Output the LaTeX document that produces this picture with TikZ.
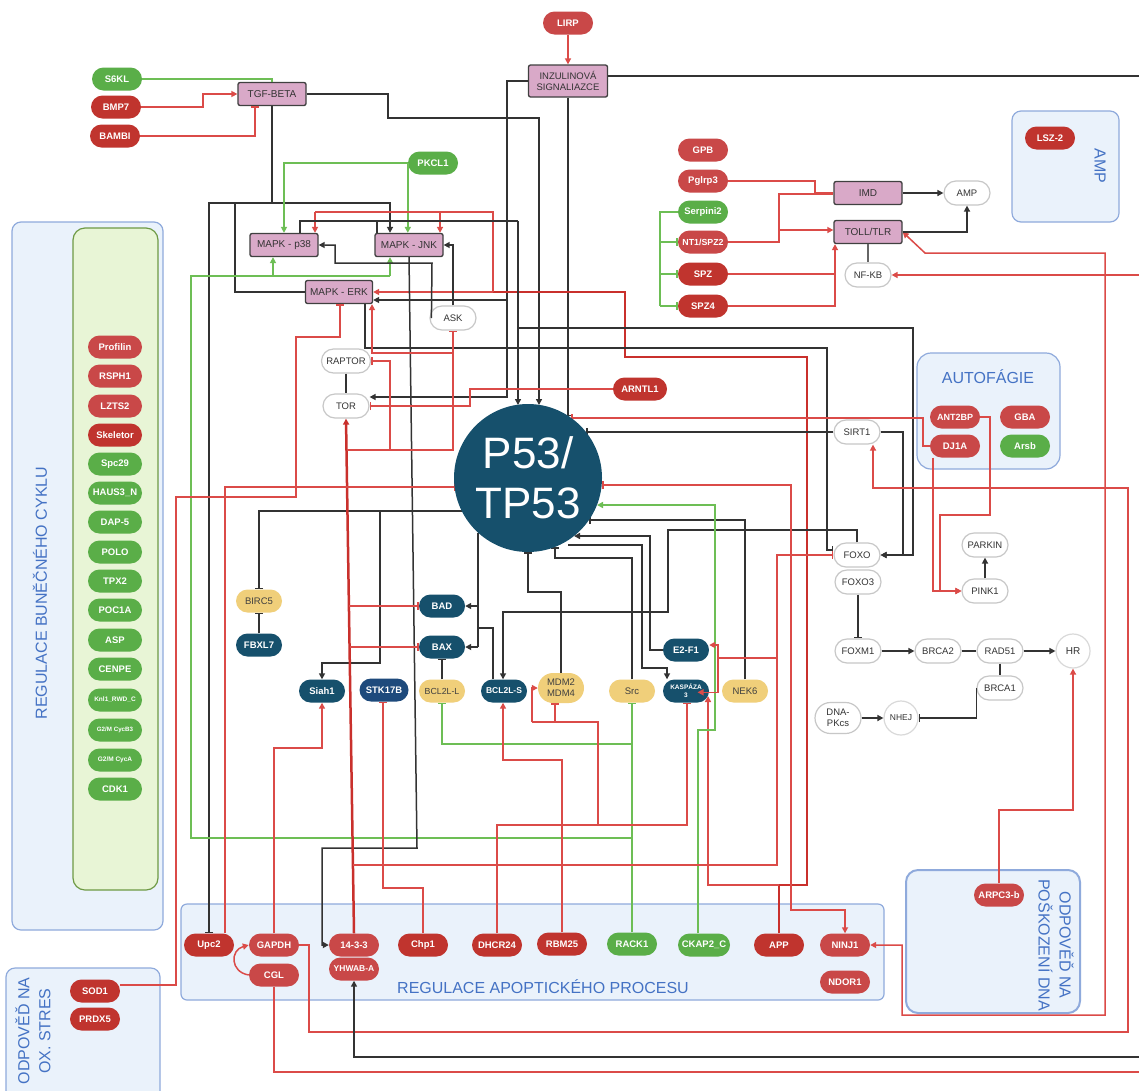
\documentclass[tikz,border=0pt]{standalone}
\usepackage{fontspec}
\setmainfont{Liberation Sans}
\usetikzlibrary{arrows.meta,shapes.misc,shapes.geometric}
\definecolor{redA}{HTML}{C94848}
\definecolor{redB}{HTML}{C0342E}
\definecolor{greenP}{HTML}{5AAE48}
\definecolor{blueD}{HTML}{16506C}
\definecolor{navyB}{HTML}{1E4A7C}
\definecolor{yellowP}{HTML}{F0CF7A}
\definecolor{pinkF}{HTML}{D9A9C8}
\definecolor{lineR}{HTML}{DB4B48}
\definecolor{lineRT}{HTML}{C9302C}
\definecolor{lineG}{HTML}{6DBE55}
\definecolor{lineK}{HTML}{333333}
\definecolor{boxF}{HTML}{EAF2FB}
\definecolor{boxD}{HTML}{8FAADC}
\definecolor{gboxF}{HTML}{E8F5D6}
\definecolor{gboxD}{HTML}{6E9A45}
\definecolor{titleB}{HTML}{4472C4}
\begin{document}
\begin{tikzpicture}[x=1pt,y=-1pt,
  every node/.style={inner sep=0pt},
  pillb/.style={shape=rounded rectangle, minimum width=50pt, minimum height=23pt, text=white, font=\fontsize{9.5}{11}\selectfont\bfseries},
  rp/.style={pillb, fill=redA},
  rd/.style={pillb, fill=redB},
  gp/.style={pillb, fill=greenP},
  bp/.style={pillb, fill=blueD, minimum width=46pt},
  yp/.style={shape=rounded rectangle, minimum width=46pt, minimum height=23pt, fill=yellowP, text=black!75, font=\fontsize{9.5}{11}\selectfont},
  wp/.style={shape=rounded rectangle, minimum width=46pt, minimum height=24pt, fill=white, draw=black!22, line width=1.2pt, text=black!80, font=\fontsize{9.5}{11}\selectfont},
  pk/.style={rectangle, rounded corners=2pt, minimum width=68pt, minimum height=23pt, fill=pinkF, draw=black!75, line width=1.3pt, text=black!80, font=\fontsize{10}{12}\selectfont},
  boxst/.style={fill=boxF, draw=boxD, line width=1.2pt, rounded corners=9pt},
  ttl/.style={text=titleB, font=\fontsize{16}{21}\selectfont, align=center},
  bl/.style={draw=lineK, line width=1.5pt},
  rl/.style={draw=lineR, line width=1.5pt},
  rlT/.style={draw=lineRT, line width=2.5pt},
  gl/.style={draw=lineG, line width=1.5pt},
  act/.style={-{Triangle[length=6pt,width=6pt]}},
  inh/.style={-{Bar[width=8pt]}},
  bact/.style={{Triangle[length=6pt,width=6pt]}-{Triangle[length=6pt,width=6pt]}},
  binh/.style={{Bar[width=8pt]}-{Triangle[length=6pt,width=6pt]}}
]
\fill[white] (0,0) rectangle (1139,1090);
\useasboundingbox (0,0) rectangle (1139,1090);

% ---------- boxes ----------
\draw[boxst] (12,222) rectangle (163,930);
\draw[fill=gboxF, draw=gboxD, line width=1.2pt, rounded corners=12pt] (73,228) rectangle (158,890);
\draw[boxst, rounded corners=6pt] (181,904) rectangle (884,1000);
\draw[boxst] (6,968) rectangle (160,1110);
\draw[boxst, line width=2pt, rounded corners=12pt] (906,870) rectangle (1080,1013);
\draw[boxst] (1012,111) rectangle (1119,222);
\draw[boxst, rounded corners=14pt] (917,353) rectangle (1060,469);

\node[ttl, rotate=90] (tCyc) at (40,593) {REGULACE BUNĚČNÉHO CYKLU};
\node[ttl] (tApo) at (543,987) {REGULACE APOPTICKÉHO PROCESU};
\node[ttl] (tAut) at (988,377) {AUTOFÁGIE};
\node[ttl, rotate=-90] (tAmp) at (1100,166) {AMP};
\node[ttl, rotate=-90] (tDna) at (1056,945) {ODPOVĚĎ NA\\POŠKOZENÍ DNA};
\node[ttl, rotate=90] (tOx) at (33,1031) {ODPOVĚĎ NA\\OX. STRES};

% ---------- nodes ----------
\node[gp] (S6KL) at (117,79) {S6KL};
\node[rd] (BMP7) at (116,107) {BMP7};
\node[rd] (BAMBI) at (115,136) {BAMBI};
\node[rp] (LIRP) at (568,23) {LIRP};
\node[gp] (PKCL1) at (433,163) {PKCL1};
\node[pk] (TGF) at (272,94) {TGF-BETA};
\node[pk, minimum width=79pt, minimum height=32pt, align=center, font=\fontsize{9.5}{11.5}\selectfont] (INZ) at (568,81) {INZULINOVÁ\\SIGNALIAZCE};
\node[pk] (p38) at (284,245) {MAPK - p38};
\node[pk] (JNK) at (409,245) {MAPK - JNK};
\node[pk, minimum width=67pt] (ERK) at (339,292) {MAPK - ERK};
\node[wp] (ASK) at (453,318) {ASK};
\node[wp, minimum width=49pt] (RAPTOR) at (346,361) {RAPTOR};
\node[wp] (TOR) at (346,406) {TOR};
\node[rd, minimum width=54pt] (ARNTL1) at (640,389) {ARNTL1};
\node[rp] (GPB) at (703,150) {GPB};
\node[rp] (Pglrp3) at (703,181) {Pglrp3};
\node[gp] (Serpini2) at (703,212) {Serpini2};
\node[rp, font=\fontsize{8.8}{10}\selectfont\bfseries] (NT1) at (703,242) {NT1/SPZ2};
\node[rd] (SPZ) at (703,274) {SPZ};
\node[rd] (SPZ4) at (703,306) {SPZ4};
\node[pk] (IMD) at (868,193) {IMD};
\node[pk] (TOLL) at (868,232) {TOLL/TLR};
\node[wp] (AMPn) at (967,193) {AMP};
\node[wp] (NFKB) at (868,275) {NF-KB};
\node[rd] (LSZ) at (1050,138) {LSZ-2};
\node[wp] (SIRT1) at (857,432) {SIRT1};
\node[wp] (FOXO) at (857,555) {FOXO};
\node[wp] (FOXO3) at (858,582) {FOXO3};
\node[wp] (FOXM1) at (858,651) {FOXM1};
\node[wp] (BRCA2) at (938,651) {BRCA2};
\node[wp] (RAD51) at (1000,651) {RAD51};
\node[wp] (BRCA1) at (1000,688) {BRCA1};
\node[circle, minimum size=34pt, fill=white, draw=black!15, line width=1.2pt, text=black!80, font=\fontsize{10}{12}\selectfont] (HR) at (1073,651) {HR};
\node[wp] (PARKIN) at (985,545) {PARKIN};
\node[wp] (PINK1) at (985,591) {PINK1};
\node[rp, font=\fontsize{9}{10}\selectfont\bfseries] (ANT2BP) at (955,417) {ANT2BP};
\node[rp] (GBA) at (1025,417) {GBA};
\node[rp] (DJ1A) at (955,446) {DJ1A};
\node[gp] (Arsb) at (1025,446) {Arsb};
\node[yp] (BIRC5) at (259,601) {BIRC5};
\node[bp] (FBXL7) at (259,645) {FBXL7};
\node[bp] (BAD) at (442,606) {BAD};
\node[bp] (BAX) at (442,647) {BAX};
\node[bp] (Siah1) at (322,691) {Siah1};
\node[bp, fill=navyB, minimum width=49pt] (STK17B) at (384,690) {STK17B};
\node[yp, font=\fontsize{8.8}{10}\selectfont] (BCL2LL) at (442,691) {BCL2L-L};
\node[bp, font=\fontsize{8.5}{10}\selectfont\bfseries] (BCL2LS) at (504,691) {BCL2L-S};
\node[yp, minimum height=30pt, align=center, font=\fontsize{9.5}{11}\selectfont] (MDM) at (561,688) {MDM2\\MDM4};
\node[yp] (Src) at (632,691) {Src};
\node[bp, align=center, font=\fontsize{6.5}{8}\selectfont\bfseries] (KASP) at (686,691) {KASPÁZA\\3};
\node[yp] (NEK6) at (745,691) {NEK6};
\node[bp] (E2F1) at (686,650) {E2-F1};
\node[wp, minimum height=31pt, align=center] (DNAPK) at (838,718) {DNA-\\PKcs};
\node[circle, minimum size=34pt, fill=white, draw=black!15, line width=1.2pt, text=black!80, font=\fontsize{8.5}{10}\selectfont] (NHEJ) at (901,718) {NHEJ};
\node[rd] (Upc2) at (209,945) {Upc2};
\node[rp] (GAPDH) at (274,945) {GAPDH};
\node[rp] (CGL) at (274,975) {CGL};
\node[rp] (YHWAB) at (354,969) {\fontsize{8.5}{10}\selectfont YHWAB-A};
\node[rp] (P1433) at (354,945) {14-3-3};
\node[rd] (Chp1) at (423,945) {Chp1};
\node[rd] (DHCR24) at (497,945) {DHCR24};
\node[rd] (RBM25) at (562,944) {RBM25};
\node[gp] (RACK1) at (632,944) {RACK1};
\node[gp, minimum width=52pt] (CKAP2) at (704,945) {CKAP2\_C};
\node[rd] (APP) at (779,945) {APP};
\node[rp] (NINJ1) at (845,945) {NINJ1};
\node[rp] (NDOR1) at (845,982) {NDOR1};
\node[rp] (ARPC3) at (999,895) {ARPC3-b};
\node[rd] (SOD1) at (95,991) {SOD1};
\node[rd] (PRDX5) at (95,1019) {PRDX5};
% cell-cycle column
\node[rp, minimum width=54pt] (cProf) at (115,347) {Profilin};
\node[rp, minimum width=54pt] (cRsph) at (115,376) {RSPH1};
\node[rp, minimum width=54pt] (cLzts) at (115,406) {LZTS2};
\node[rd, minimum width=54pt] (cSkel) at (115,435) {Skeletor};
\node[gp, minimum width=54pt] (cSpc) at (115,464) {Spc29};
\node[gp, minimum width=54pt] (cHaus) at (115,493) {HAUS3\_N};
\node[gp, minimum width=54pt] (cDap) at (115,522) {DAP-5};
\node[gp, minimum width=54pt] (cPolo) at (115,552) {POLO};
\node[gp, minimum width=54pt] (cTpx) at (115,581) {TPX2};
\node[gp, minimum width=54pt] (cPoc) at (115,610) {POC1A};
\node[gp, minimum width=54pt] (cAsp) at (115,640) {ASP};
\node[gp, minimum width=54pt] (cCenp) at (115,669) {CENPE};
\node[gp, minimum width=54pt, font=\fontsize{6.5}{8}\selectfont\bfseries] (cKnl) at (115,700) {Knl1\_RWD\_C};
\node[gp, minimum width=54pt, font=\fontsize{6.2}{8}\selectfont\bfseries] (cCycB) at (115,730) {G2/M CycB3};
\node[gp, minimum width=54pt, font=\fontsize{6.5}{8}\selectfont\bfseries] (cCycA) at (115,760) {G2/M CycA};
\node[gp, minimum width=54pt] (cCdk) at (115,789) {CDK1};

% ---------- connectors ----------
% TGF area
\draw[gl] (S6KL.east) -| (TGF.north);
\draw[rl,act] (BMP7.east) -- (203,107) |- (TGF.west);
\draw[rl,inh] (BAMBI.east) -| ([xshift=-17pt]TGF.south);
\draw[bl,act] (TGF.east) -- (388,94) -- (388,118) -- (539,118) -- (539,405);
\draw[bl,inh] (TGF.south) |- (209,203) -- (Upc2.north);
\draw[bl,act] (272,203) -| ([xshift=-19pt]JNK.north);
\draw[bl] (235,203) |- (ERK.west);
% insulin
\draw[rl,act] (LIRP.south) -- (INZ.north);
\draw[bl,inh] (INZ.south) -- (568,416);
\draw[bl] ([yshift=5pt]INZ.east) -- (1139,76);
\draw[bl,act] (INZ.west) -| (507,300) -- ([yshift=-8pt]ERK.east);
\draw[bl,act] (507,300) -- (507,397) -- ([yshift=9pt]TOR.east);
% PKCL1
\draw[gl,act] (PKCL1.west) -| (p38.north);
\draw[gl,act] (PKCL1.west) -- (PKCL1.west |- JNK.north);
% RACK1
\draw[gl] (632,838) -- (191,838) -- (191,276) -- (390,276);
\draw[gl,act] (273,276) -- ([xshift=-11pt]p38.south);
\draw[gl,act] (390,276) -- ([xshift=-19pt]JNK.south);
\draw[gl,inh] (632,744) -| (BCL2LL.south);
\draw[gl,inh] (RACK1.north) -- (Src.south);
% APP thick
\draw[rlT] (APP.north) -- (779,885) -- (807,885) -- (807,357) -- (625,357) -- (625,292) -- (493,292);
\draw[rl,act] (493,292) -- (ERK.east);
\draw[rl] (493,292) -- (493,212) -- (315,212);
\draw[rl,act] (315,212) -- ([xshift=31pt]p38.north);
\draw[rl,act] (440,212) -- ([xshift=31pt]JNK.north);
\draw[rl,act] (779,885) -- (708,885) -- ([xshift=22pt,yshift=-5pt]KASP.center);
% ASK
\draw[bl,act] (ASK.north) |- (JNK.east);
\draw[bl,act] ([xshift=2pt]ASK.west) -- (432,263) -- (335,263) -- (335,245) -- (p38.east);
% JNK -> 14-3-3
\draw[bl,act] (JNK.south) -- (417,848) -- (322,848) |- (P1433.west);
% SOD1 -| ERK
\draw[rl,inh] ([yshift=6pt]SOD1.east) -- (176,985) -- (176,497) -- (296,497) -- (296,337) -- (340,337) -- ([xshift=1pt]ERK.south);
% ERK -| FOXO
\draw[bl,inh] ([xshift=26pt]ERK.south) -- (365,348) -- (827,348) |- ([yshift=5pt]FOXO.west);
% MAPK -> P53, FOXO
\draw[bl] ([xshift=16pt]p38.north) |- (518,221);
\draw[bl] ([xshift=-32pt]JNK.north) -- (377,221);
\draw[bl,act] (518,221) -- (518,405);
\draw[bl,act] (518,328) -- (913,328) |- (FOXO.east);
\draw[bl,inh] (SIRT1.west) -- (586,432);
\draw[bl,act] (SIRT1.east) -- (903,432) |- (FOXO.east);
% FOXO -> BCL2L-S
\draw[bl,act] (FOXO.north) |- (668,530) -- (668,612) -| ([xshift=-1pt]BCL2LS.north);
% P53 targets
\draw[bl] (478,533) -- (478,647);
\draw[bl,act] (478,606) -- (BAD.east);
\draw[bl,act] (478,647) -- (BAX.east);
\draw[bl] (478,628) -| ([xshift=-11pt]BCL2LS.north);
\draw[bl,inh] (462,511) -| (BIRC5.north);
\draw[bl,act] (380,511) |- (322,663) -- (Siah1.north);
\draw[bl,inh] (FBXL7.north) -- (BIRC5.south);
\draw[bl,inh] (BCL2LL.north) -- (BAX.south);
\draw[bl,inh] (MDM.north) |- (528,592) -- (528,552);
\draw[bl,inh] (Src.north) |- (555,558) -- (555,547);
\draw[bl,act] (E2F1.west) -- (650,650) -- (650,536) -- (574,536);
\draw[bl,act] (568,545) -- (642,545) -- (642,668) -| ([xshift=-19pt]KASP.north);
\draw[bl,inh] (NEK6.north) |- (589,520);
\draw[gl,act] ([xshift=-6pt]CKAP2.north) -- (698,730) -- (715,730) -- (715,505) -- (597,505);
% NINJ1
\draw[rl,binh] (602,485) -- (791,485) -- (791,910) -| (NINJ1.north);
% 14-3-3 network
\draw[rlT,act] (P1433.north) -- (TOR.south);
\draw[rl,inh] (347,450) -| (ASK.south);
\draw[rl,inh] (390,450) |- (RAPTOR.east);
\draw[rl,act] (453,353) -| ([xshift=33pt]ERK.south);
\draw[rl,inh] (349,606) -- (BAD.west);
\draw[rl,inh] (350,647) -- (BAX.west);
\draw[rl,inh] (353,865) -- (777,865) |- (FOXO.west);
\draw[rl,act] (777,658) -- (718,658) |- ([yshift=5pt]E2F1.east);
\draw[rl,act] (718,658) |- ([yshift=-13pt]KASP.north east);
% DHCR24
\draw[rl,inh] (DHCR24.north) |- (687,825) -- ([xshift=1pt]KASP.south);
\draw[rl] (598,825) -- (598,722) -- (532,722);
\draw[rl,act] (532,722) |- (MDM.west);
\draw[rl,inh] (555,722) -- ([xshift=-6pt]MDM.south);
% RBM25, Chp1
\draw[rl,act] (RBM25.north) |- (503,760) -- ([xshift=-1pt]BCL2LS.south);
\draw[rl,inh] (Chp1.north) |- (383,888) -- ([xshift=-1pt]STK17B.south);
% GAPDH, CGL, YHWAB
\draw[rl,act] (GAPDH.north) |- (322,748) -- (Siah1.south);
\draw[rl,act] (CGL.west) .. controls (230,972) and (230,950) .. (GAPDH.west);
\draw[rl,act] (GAPDH.east) -- (309,945) -- (309,1032) -- (1128,1032) -- (1128,488) -| ([xshift=16pt]SIRT1.south);
\draw[rl] (CGL.south) |- (1139,1072);
\draw[bl,act] (1139,1057) -| (YHWAB.south);
% TOLL / immune
\draw[rl,bact] (TOLL.east) -- (925,253) -- (1105,253) -- (1105,1015) -- (902,1015) |- (NINJ1.east);
\draw[rl,act] (1139,275) -- (NFKB.east);
\draw[draw=black!60, line width=1.5pt] (TOLL.south) -- (NFKB.north);
\draw[bl,act] (TOLL.east) -| (AMPn.south);
\draw[bl,act] (IMD.east) -- (AMPn.west);
\draw[rl] (Pglrp3.east) -- (815,181) |- (IMD.west);
\draw[rl] (NT1.east) -- (779,242) |- ([yshift=-1pt]IMD.west);
\draw[rl,act] (779,230) -- ([yshift=2pt]TOLL.west);
\draw[rl,act] (SPZ.east) -| ([xshift=-33pt]TOLL.south);
\draw[rl] (SPZ4.east) -| (835,275);
\draw[gl] (Serpini2.west) -- (660,212) -- (660,306);
\draw[gl,inh] (660,242) -- (NT1.west);
\draw[gl,inh] (660,274) -- (SPZ.west);
\draw[gl,inh] (660,306) -- (SPZ4.west);
% autophagy
\draw[rl,act] (ANT2BP.east) -- (990,417) -- (990,515) -- (940,515) |- (PINK1.west);
\draw[rl,act] ([xshift=-22pt]DJ1A.south) |- (PINK1.west);
\draw[rl,inh] (DJ1A.west) -- (923,446) -- (923,418) -- (571,418);
\draw[bl,act] (PINK1.north) -- (PARKIN.south);
% DNA repair
\draw[bl,inh] (FOXO3.south) -- (FOXM1.north);
\draw[bl,act] (FOXM1.east) -- (BRCA2.west);
\draw[bl] (BRCA2.east) -- (RAD51.west);
\draw[bl,act] (RAD51.east) -- (HR.west);
\draw[bl] (RAD51.south) -- (BRCA1.north);
\draw[bl,inh] (BRCA1.west) |- (NHEJ.east);
\draw[bl,act] (DNAPK.east) -- (NHEJ.west);
\draw[rl,act] (ARPC3.north) |- (1073,810) -- (HR.south);
% misc
\draw[rl,inh] (ARNTL1.west) -- (470,389) |- (TOR.east);
\draw[rl,inh] ([xshift=16pt]Upc2.north) |- (455,487);
\draw[bl] (RAPTOR.south) -- (TOR.north);

% P53 drawn last
\node[circle, minimum size=148pt, fill=blueD, text=white, align=center, font=\fontsize{44}{50}\selectfont] (P53) at (528,478) {P53/\\TP53};
\end{tikzpicture}
\end{document}
